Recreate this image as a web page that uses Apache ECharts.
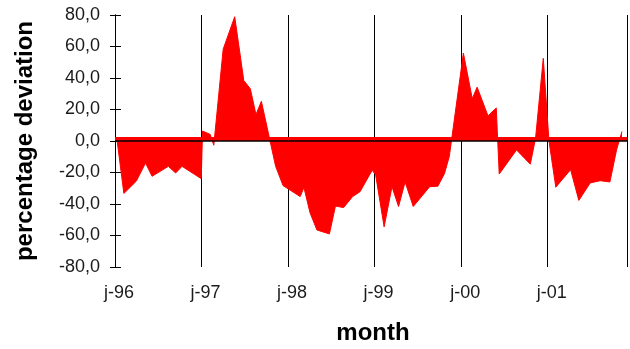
<!DOCTYPE html>
<html>
<head>
<meta charset="utf-8">
<script src="https://cdn.jsdelivr.net/npm/echarts@6/dist/echarts.min.js"></script>
<style>
  html, body { margin: 0; padding: 0; background: #fff; }
  #chart { width: 630px; height: 349px; }
</style>
</head>
<body>
<div id="chart"></div>
<script>
// months counted from jan 1996
var monthPos = [0.3, 1.23, 2.95, 4.23, 5.14, 7.4, 8.41, 9.3, 11.96, 12.14, 13.2, 13.7,
    15.0, 16.6, 17.86, 18.77, 19.55, 20.3, 22.27, 23.3, 25.68, 26.2, 27.04, 28.0,
    29.73, 30.57, 31.7, 32.95, 33.98, 35.66, 36.14, 37.32, 38.41, 39.32, 40.23, 41.36,
    43.64, 44.77, 45.68, 46.36, 48.31, 49.54, 50.22, 51.72, 52.87, 53.28, 55.68, 57.59,
    58.32, 59.39, 60.18, 61.13, 63.18, 64.32, 65.9, 67.27, 68.63, 69.55, 70.3];
var deviation = [0, -33.3, -25.5, -14, -22.4, -16.1, -20.3, -16.1, -23.9, 6.3, 4.2, -2.7,
    58.3, 78.9, 38.4, 33.1, 16.8, 25.2, -16, -28.3, -35.3, -29.5, -45.5, -56.5,
    -59, -41.3, -42.3, -35.3, -32.2, -18.6, -21.4, -54.5, -29, -41.6, -26, -41.6,
    -29, -28.7, -20.8, -9.8, 55.8, 26.9, 34.2, 16, 21, -21, -5.7, -14.7,
    1.7, 52.5, 0, -29.3, -18.2, -37.7, -26.6, -25.2, -26, -5.7, 6];
var yearLabels = ['j-96', 'j-97', 'j-98', 'j-99', 'j-00', 'j-01'];
var yMin = -80, yMax = 80, yStep = 20;

var points = monthPos.map(function (m, i) { return [m, deviation[i]]; });

var labelFont = 'Liberation Sans, Arial, sans-serif';

function yLabel(v) {
    return v.toFixed(1).replace('.', ',');
}

var myChart = echarts.init(document.getElementById('chart'));
myChart.setOption({
    animation: false,
    grid: { left: 115, top: 15, width: 520.7, height: 252 },
    xAxis: {
        type: 'value',
        min: 0,
        max: 71,
        interval: 12,
        axisLine: { show: false },
        axisTick: { show: false },
        axisLabel: {
            margin: 17,
            fontSize: 18,
            fontFamily: labelFont,
            color: '#1a1a1a',
            padding: [0, 0, 0, 8],
            formatter: function (v) {
                return v % 12 === 0 ? (yearLabels[v / 12] || '') : '';
            }
        },
        splitLine: { show: true, lineStyle: { color: '#000', width: 1 } }
    },
    yAxis: [
        {
            type: 'value',
            position: 'left',
            min: yMin, max: yMax, interval: yStep,
            axisLine: { show: true, lineStyle: { color: '#000', width: 1 } },
            axisTick: { show: true, length: 5, lineStyle: { color: '#000' } },
            axisLabel: {
                margin: 15,
                fontSize: 18,
                fontFamily: labelFont,
                color: '#1a1a1a',
                formatter: yLabel
            },
            splitLine: { show: false }
        },
        {
            // second copy only for the inside half of the ticks
            type: 'value',
            position: 'left',
            min: yMin, max: yMax, interval: yStep,
            axisLine: { show: true, lineStyle: { color: '#000', width: 1 } },
            axisTick: { show: true, inside: true, length: 6, lineStyle: { color: '#000' } },
            axisLabel: { show: false },
            splitLine: { show: false }
        }
    ],
    graphic: [
        {
            type: 'text',
            x: 25, y: 141,
            rotation: Math.PI / 2,
            style: {
                text: 'percentage deviation',
                font: 'bold 24px ' + labelFont,
                fill: '#000',
                textAlign: 'center',
                textVerticalAlign: 'middle'
            }
        },
        {
            type: 'text',
            x: 373, y: 333,
            style: {
                text: 'month',
                font: 'bold 24px ' + labelFont,
                fill: '#000',
                textAlign: 'center',
                textVerticalAlign: 'middle'
            }
        }
    ],
    series: [
        {
            type: 'line',
            data: points,
            showSymbol: false,
            silent: true,
            lineStyle: { color: '#ff0000', width: 1 },
            areaStyle: { color: '#ff0000', opacity: 1, origin: 0 },
            markArea: {
                silent: true,
                itemStyle: { color: '#ff0000' },
                data: [[{ yAxis: 0 }, { yAxis: 2.6 }]]
            },
            markLine: {
                silent: true,
                symbol: 'none',
                label: { show: false },
                lineStyle: { color: '#000', width: 1.5, type: 'solid' },
                data: [{ yAxis: 0 }]
            }
        }
    ]
});
</script>
</body>
</html>
